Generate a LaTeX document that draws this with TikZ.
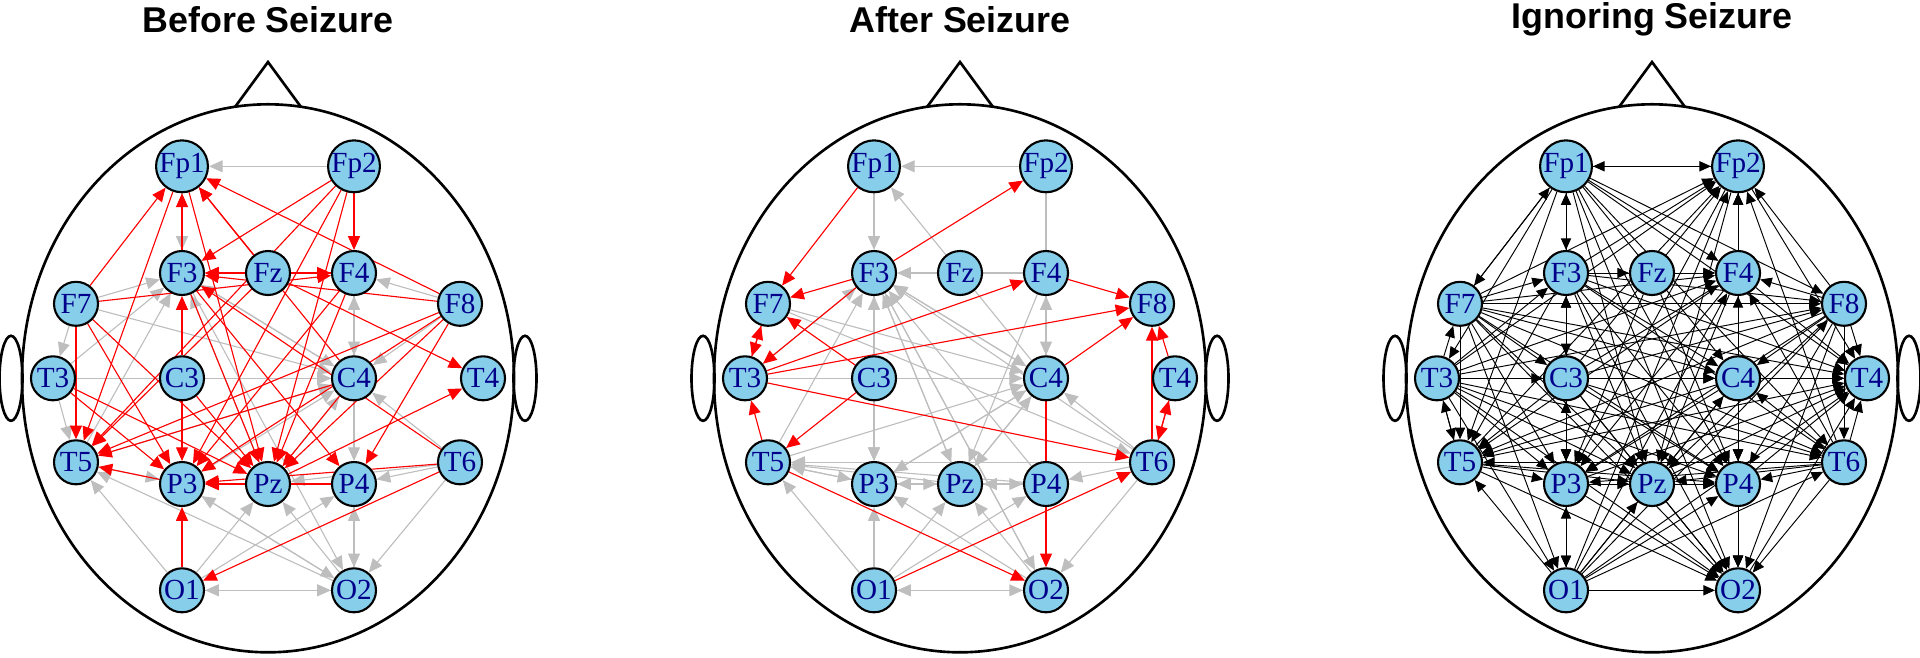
\documentclass[tikz,border=0pt]{standalone}
\usepackage{fontspec}
\setmainfont{Liberation Serif}
\setsansfont{Liberation Sans}
\usetikzlibrary{arrows.meta}

\definecolor{skyblue}{HTML}{87CEEB}
\definecolor{labelblue}{HTML}{00008B}
\definecolor{linkgrey}{HTML}{BEBEBE}
\definecolor{linkred}{HTML}{FF0000}

\pgfdeclarelayer{back}
\pgfdeclarelayer{edges}
\pgfsetlayers{back,edges,main}

\tikzset{
  electrode/.style={circle, draw=black, line width=0.6pt, fill=skyblue, text=labelblue,
    inner sep=0pt, minimum size=0.44cm, font=\fontsize{8.3}{9}\selectfont},
  paneltitle/.style={font=\sffamily\bfseries\fontsize{10.2}{12}\selectfont, inner sep=0pt},
  headline/.style={line width=0.75pt, black},
  redlink/.style={-{Triangle[length=3.9pt,width=3.4pt]}, linkred, line width=0.32pt},
  greylink/.style={-{Triangle[length=3.9pt,width=3.4pt]}, linkgrey, line width=0.32pt},
  greyplain/.style={linkgrey, line width=0.32pt},
  blacklink/.style={-{Triangle[length=3.3pt,width=2.9pt]}, black, line width=0.27pt}
}

% head outline, nose and ears round centre x = #1
\newcommand{\headat}[1]{%
  \begin{pgfonlayer}{back}
    \draw[headline] (#1,2.787) ellipse [x radius=2.46, y radius=2.74];
    \draw[headline] (#1-0.33,5.50) -- (#1,5.95) -- (#1+0.33,5.50);
    \draw[headline] (#1-2.57,2.787) ellipse [x radius=0.115, y radius=0.425];
    \draw[headline] (#1+2.57,2.787) ellipse [x radius=0.115, y radius=0.425];
  \end{pgfonlayer}}

% the 18 electrodes: #1 name prefix, #2 centre x, #3 title
\newcommand{\electrodes}[3]{%
  \begin{scope}[shift={(#2,2.787)}]
    \node[electrode] (#1Fp1) at (-0.86, 2.12) {Fp1};
    \node[electrode] (#1Fp2) at ( 0.86, 2.12) {Fp2};
    \node[electrode] (#1F7)  at (-1.92, 0.745) {F7};
    \node[electrode] (#1F3)  at (-0.86, 1.053) {F3};
    \node[electrode] (#1Fz)  at ( 0,    1.053) {Fz};
    \node[electrode] (#1F4)  at ( 0.86, 1.053) {F4};
    \node[electrode] (#1F8)  at ( 1.92, 0.745) {F8};
    \node[electrode] (#1T3)  at (-2.15, 0) {T3};
    \node[electrode] (#1C3)  at (-0.86, 0) {C3};
    \node[electrode] (#1C4)  at ( 0.86, 0) {C4};
    \node[electrode] (#1T4)  at ( 2.15, 0) {T4};
    \node[electrode] (#1T5)  at (-1.92,-0.84) {T5};
    \node[electrode] (#1P3)  at (-0.86,-1.057) {P3};
    \node[electrode] (#1Pz)  at ( 0,   -1.057) {Pz};
    \node[electrode] (#1P4)  at ( 0.86,-1.057) {P4};
    \node[electrode] (#1T6)  at ( 1.92,-0.84) {T6};
    \node[electrode] (#1O1)  at (-0.86,-2.12) {O1};
    \node[electrode] (#1O2)  at ( 0.86,-2.12) {O2};
    \node[paneltitle] (#1title) at (0, 3.59) {#3};
  \end{scope}}

\def\iorder{Fp1,T3,F7,O1,C3,F3,F8,T6,C4,F4,T5,Fp2,P3,Pz,P4,O2,T4}

\begin{document}
\begin{tikzpicture}
\useasboundingbox (0,0) rectangle (19.2,6.57);

% Before Seizure
\headat{2.68}
\electrodes{b}{2.68}{Before Seizure}
\begin{pgfonlayer}{edges}
  \foreach \s/\t in {Fp2/Fp1, Fp1/F3, F8/F4, C4/F4, F4/C4, F7/F3, T3/F3, T5/F3, Pz/F3, C4/F3,
      F7/T3, T3/T5, T3/C4, F7/C4, F3/C4, C3/C4, T5/C4, P3/C4, Pz/C4, T6/C4, F8/C4,
      O1/T5, O2/T5, T5/P3, O2/P3, O1/Pz, O2/Pz, T6/Pz, T6/P4, O1/P4, C4/P4, O2/P4,
      P4/O2, T6/O2, P3/O2, F3/O2, O1/O2, O2/O1}
    \draw[greylink] (b\s) -- (b\t);
  \foreach \s/\t in {F7/Fp1, F3/Fp1, Fz/Fp1, C4/Fp1, F8/Fp1, Fp1/T5, Fp1/Pz,
      Fp2/F3, Fp2/F4, Fp2/T5, Fp2/P3, Fp2/Pz, Fz/F3, Fz/F4, F4/F3, F8/F3, F7/F4, C3/F3,
      Fz/T4, F3/P4, F3/Pz, T6/F3, F8/T5, F8/P3, F8/P4, F8/Pz,
      T3/P3, T3/Pz, F7/T5, F7/P3, F7/Pz, C3/P3, C3/Pz, Fz/T5, C4/T5, C4/Pz,
      P3/T5, Pz/P3, P4/P3, T6/P3, T6/O1, O1/P3, Pz/T4, F4/P3, F4/Pz}
    \draw[redlink] (b\s) -- (b\t);
\end{pgfonlayer}

% After Seizure
\headat{9.60}
\electrodes{a}{9.60}{After Seizure}
\begin{pgfonlayer}{edges}
  \draw[greyplain] (aFp2) -- (aF4);
  \draw[greyplain] (aFz) -- (aF4);
  \foreach \s/\t in {Fp2/Fp1, Fp1/F3, Fz/F3, C4/Fp1, T3/F3, T5/F3, C3/F3, Pz/F3, P4/F3,
      C4/F3, O2/F3, T6/F3, F7/T6, F7/C4, F3/C4, T3/C4, T5/C4, P3/C4, Pz/C4,
      F4/C4, C4/F4, T6/C4, P3/T5, Pz/T5, P4/T5, T6/T5, O1/T5, T5/P3, P3/Pz, Pz/P3,
      Pz/P4, P4/Pz, T6/P4, O1/P3, O1/Pz, O1/P4, O2/P3, O2/Pz, T6/O2, O1/O2, O2/O1,
      F3/Pz, F3/P3, C3/P3, F3/O2, C4/P3, C4/Pz, F4/Pz}
    \draw[greylink] (a\s) -- (a\t);
  \foreach \s/\t in {Fp1/F7, F3/Fp2, F3/F7, C3/F7, T3/F7, F7/T3, T5/T3, F3/T3,
      T3/F4, T3/F8, T3/T6, F4/F8, C4/F8, T6/F8, T4/F8, T6/T4, T4/T6,
      C3/T5, T5/O2, O1/T6, C4/O2}
    \draw[redlink] (a\s) -- (a\t);
\end{pgfonlayer}

% Ignoring Seizure
\headat{16.52}
\electrodes{i}{16.52}{Ignoring Seizure}
\begin{pgfonlayer}{edges}
  \foreach \s [count=\i] in \iorder {
    \foreach \t [count=\j] in \iorder {
      \ifnum\j>\i \draw[blacklink] (i\s) -- (i\t); \fi
    }
  }
  \foreach \s/\t in {F3/Fz, Fz/F4, Fz/P3, Fz/P4, Fp2/Fp1, F3/Fp1, P3/O1, F7/Fp1,
      T5/T3, F4/Fp2}
    \draw[blacklink] (i\s) -- (i\t);
\end{pgfonlayer}

\end{tikzpicture}
\end{document}
